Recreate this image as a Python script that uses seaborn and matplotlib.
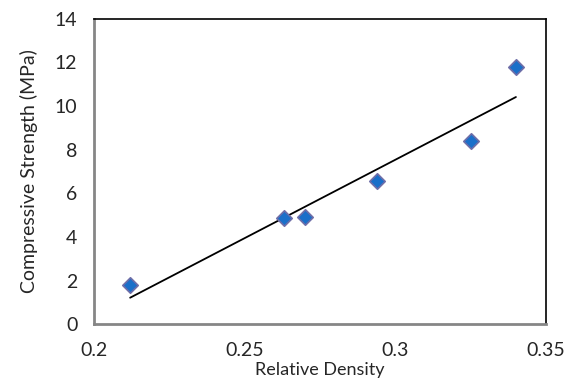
import numpy as np
import pandas as pd
import seaborn as sns
import matplotlib
import matplotlib.pyplot as plt
from matplotlib.ticker import MultipleLocator

sns.set_style('white')
matplotlib.rcParams['font.family'] = ['Lato', 'DejaVu Sans']
matplotlib.rcParams['font.size'] = 14

# valores
densidade = [0.212, 0.263, 0.270, 0.294, 0.325, 0.340]
resistencia = [1.79, 4.86, 4.90, 6.58, 8.40, 11.81]

df = pd.DataFrame({'Relative Density': densidade,
                   'Compressive Strength (MPa)': resistencia})

fig = plt.figure(figsize=(5.73, 3.85), dpi=100)
ax = fig.add_axes([0.164, 0.158, 0.789, 0.793])

# linha de tendência linear
sns.regplot(data=df, x='Relative Density', y='Compressive Strength (MPa)',
            scatter=False, ci=None, truncate=True, ax=ax,
            line_kws={'color': 'black', 'linewidth': 1.3})

sns.scatterplot(data=df, x='Relative Density', y='Compressive Strength (MPa)',
                marker='D', s=62, color='#1a6fc9', edgecolor='#6e6ea8',
                linewidth=1.2, ax=ax, zorder=3)

ax.set_xlim(0.2, 0.35)
ax.set_ylim(0, 14)
ax.xaxis.set_minor_locator(MultipleLocator(0.01))
ax.yaxis.set_major_locator(MultipleLocator(2))
ax.yaxis.set_minor_locator(MultipleLocator(0.4))
ax.set_xticks([0.2, 0.25, 0.3, 0.35])
ax.set_xticklabels(['0.2', '0.25', '0.3', '0.35'])

ax.tick_params(which='both', direction='in', color='#868686', width=1)
ax.tick_params(which='major', length=5)
ax.tick_params(which='minor', length=4)
ax.tick_params(axis='x', which='major', pad=13)
ax.tick_params(axis='y', which='major', pad=12)

for lado in ['left', 'bottom']:
    ax.spines[lado].set_color('#868686')
    ax.spines[lado].set_linewidth(2)
for lado in ['top', 'right']:
    ax.spines[lado].set_color('black')
    ax.spines[lado].set_linewidth(1.2)

ax.set_xlabel('Relative Density', fontsize=13, labelpad=2)
ax.set_ylabel('Compressive Strength (MPa)', fontsize=14, labelpad=12)
ax.grid(False)

fig.savefig('out.png', dpi=100)
